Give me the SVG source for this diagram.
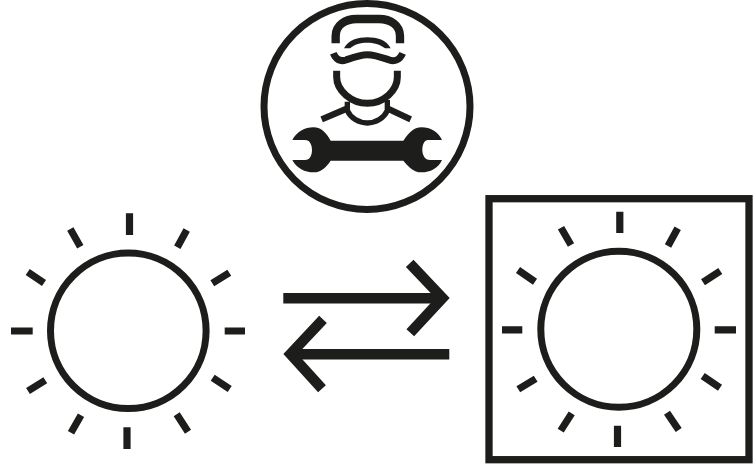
<svg xmlns="http://www.w3.org/2000/svg" width="756" height="467" viewBox="0 0 756 467">
<style>
.s{fill:none;stroke:#1d1d1b;stroke-linecap:butt;stroke-linejoin:miter}
.f{fill:#1d1d1b}
.ray{stroke-width:7.2}
.disc{stroke-width:7}
.arrow{stroke-width:10.5}
</style>
<rect width="756" height="467" fill="#fff"/>
<g id="technician">
<circle class="s" cx="367" cy="106.6" r="103" stroke-width="7"/>
<g transform="translate(260 0) scale(.33333)">
<path class="s" stroke-width="25" d="M227,130 V108 C227,76 255,57 290,57 H357 C392,57 420,76 420,108 V130"/>
<path class="f" d="M252,145 C265,120 295,112 322,112 C350,112 380,120 392,145 H375 C360,132 340,128 322,128 C300,128 285,132 270,145Z"/>
<path class="s" stroke-width="21" d="M220,160 C227,178 240,186 258,180 C280,172 300,164 322,164 C345,164 365,172 388,180 C405,186 420,178 428,160"/>
<path class="s" stroke-width="21" d="M230,212 V232 C230,272 275,310 322,310 C370,310 412,272 412,232 V212"/>
<path class="s" stroke-width="16" d="M262,305 V332 C272,354 296,369 322,369 C348,369 372,354 382,332 V300"/>
<path class="s" stroke-width="19" d="M185,358 L258,327 M385,327 L452,358"/>
<path class="f" d="M97,420 C110,395 135,382 160,382 C185,382 200,400 212,422 H430 C445,400 460,382 485,382 C510,382 535,395 546,420 H505 C490,420 487,440 487,450 C487,465 495,480 510,480 H546 C535,505 510,517 485,517 C460,517 445,500 430,482 H212 C200,500 185,517 160,517 C135,517 110,505 97,480 H135 C150,480 156,465 156,450 C156,435 150,420 135,420Z"/>
</g>
</g>
<g id="sun-left">
<circle class="s disc" cx="128.3" cy="330.8" r="77.8"/>
<path class="s ray" d="M129.5,213.3V235 M127,427.3V449 M11,331H32.7 M224.7,331H245 M70.3,229L80.3,246.7 M186.7,230L177.3,247.3 M27.7,272L44,283 M229.3,272.7L212.3,283.3 M28,391L45.3,380.3 M212.7,377.7L229.7,389 M71,432.7L81,415.3 M176.7,414.3L188,431.7"/>
</g>
<g id="sun-right">
<rect class="s" x="489" y="198.7" width="260" height="261" stroke-width="7.3"/>
<circle class="s disc" cx="618.8" cy="329.2" r="78"/>
<path class="s ray" d="M619.8,211.7V233 M617.5,425.7V447 M502,329.8H522.3 M714.7,329.8H736 M561,227.7L571,245 M677.7,228.3L668,246 M518,270L535,281.7 M720.3,271L703,282.3 M518.3,389.3L535.7,378.7 M702.7,376L720,387.7 M560.7,430.7L571.7,413.3 M667,412.7L678.7,430"/>
</g>
<g id="connectors">
<path class="s arrow" d="M283.3,298.3H442"/>
<path class="s arrow" d="M409.7,263.3L442.5,298L410.3,332.7"/>
<path class="s arrow" d="M449.3,354.3H291"/>
<path class="s arrow" d="M323,319.3L290.5,354L322,388.7"/>
</g>
</svg>
